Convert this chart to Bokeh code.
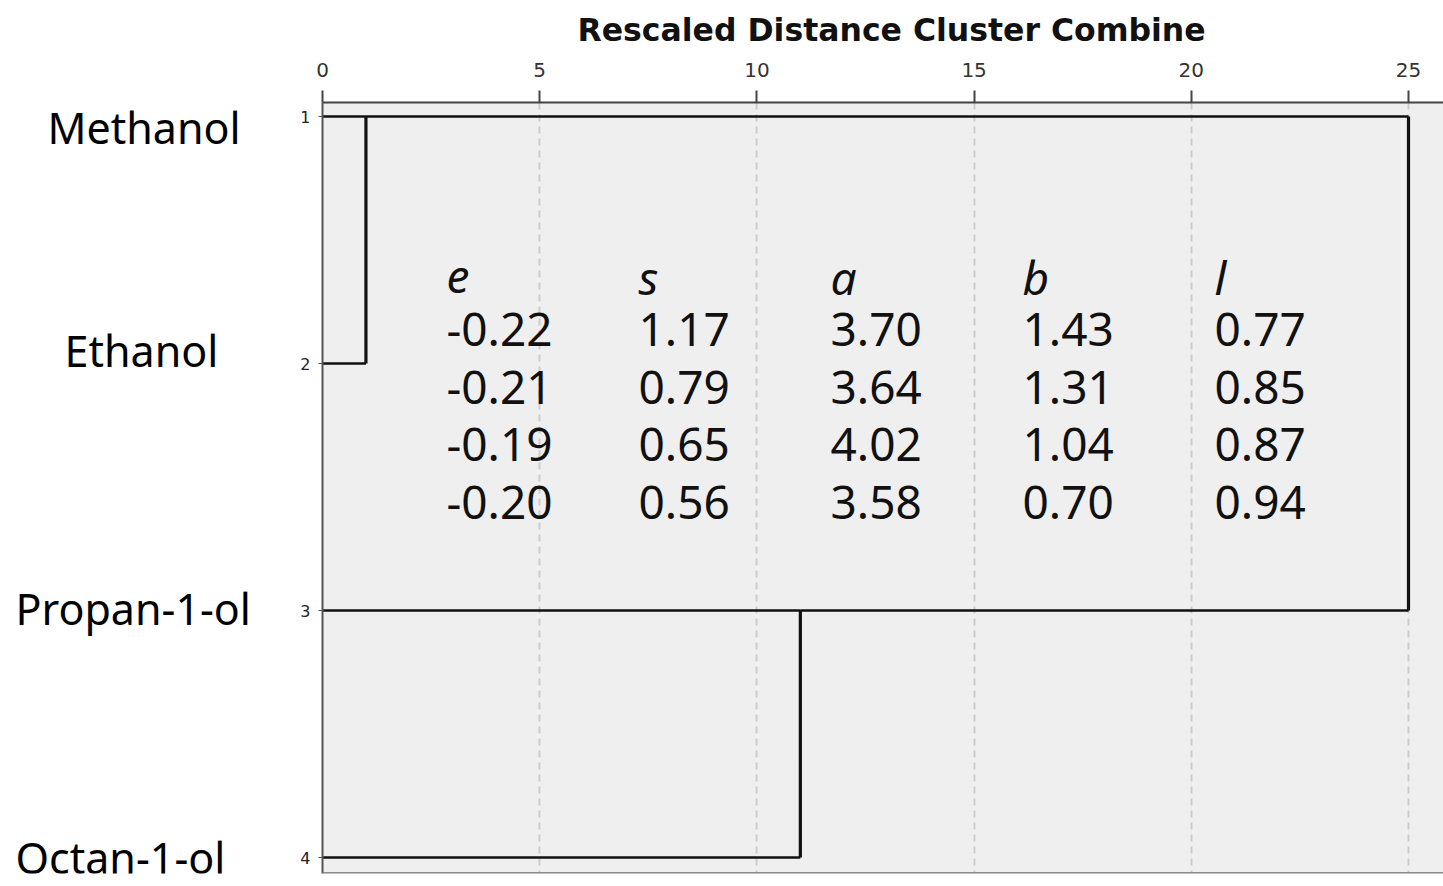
from bokeh.plotting import figure
from bokeh.layouts import row
from bokeh.models import (Range1d, FixedTicker, ColumnDataSource, Span)
from bokeh.core.properties import value
from bokeh.embed import file_html
from bokeh.resources import INLINE

# ---------------- data ----------------
names = ["Methanol", "Ethanol", "Propan-1-ol", "Octan-1-ol"]
case_ids = [1, 2, 3, 4]
# linkage: (cluster a, cluster b, rescaled distance); new clusters get ids 4, 5, ...
link_a = [0, 2, 4]
link_b = [1, 3, 5]
link_dist = [1.0, 11.0, 25.0]

x_ticks = [0, 5, 10, 15, 20, 25]

col_heads = ["e", "s", "a", "b", "l"]
col_e = ["-0.22", "-0.21", "-0.19", "-0.20"]
col_s = ["1.17", "0.79", "0.65", "0.56"]
col_a = ["3.70", "3.64", "4.02", "3.58"]
col_b = ["1.43", "1.31", "1.04", "0.70"]
col_l = ["0.77", "0.85", "0.87", "0.94"]

# ---------------- layout constants ----------------
W, H = 1443, 886
LW = 280                     # width of the name panel
PX_X = 43.44                 # pixels per distance unit
PX_Y = 247.0                 # pixels per case row
FRAME_LEFT, FRAME_TOP, FRAME_BOTTOM = 322, 102, 873
ROW1_PX, ROW4_PX = 116, 857

x_end = (W - FRAME_LEFT) / PX_X
y_top = case_ids[0] - (ROW1_PX - FRAME_TOP) / PX_Y
y_bottom = case_ids[-1] + (FRAME_BOTTOM - ROW4_PX) / PX_Y
yr = Range1d(y_bottom, y_top)

p = figure(width=W - LW, height=H, output_backend="svg", toolbar_location=None,
           x_range=Range1d(0, x_end), y_range=yr,
           x_axis_location="above", min_border_left=FRAME_LEFT - LW,
           min_border_right=0, min_border_top=FRAME_TOP,
           min_border_bottom=H - FRAME_BOTTOM, tools="")
p.background_fill_color = "#efefef"
p.border_fill_color = "white"
p.outline_line_color = None

# title
p.title.text = "Rescaled Distance Cluster Combine"
p.title.text_font = "DejaVu Sans"
p.title.text_font_style = "bold"
p.title.text_font_size = "31.5px"
p.title.text_color = "#111111"
p.title.align = "left"
p.title.vertical_align = "top"
p.title.offset = 255
p.title.standoff = 20

# top axis
xa = p.xaxis[0]
xa.ticker = FixedTicker(ticks=x_ticks)
xa.major_tick_out = 12
xa.major_tick_in = 0
xa.minor_tick_line_color = None
xa.major_tick_line_color = "#444444"
xa.major_tick_line_width = 2
xa.axis_line_color = "#444444"
xa.axis_line_width = 2
xa.major_label_text_font = "DejaVu Sans"
xa.major_label_text_font_size = "20px"
xa.major_label_text_color = "#333333"
xa.major_label_standoff = 14

# left axis (case numbers)
ya = p.yaxis[0]
ya.ticker = FixedTicker(ticks=case_ids)
ya.major_tick_out = 4
ya.major_tick_in = 0
ya.minor_tick_line_color = None
ya.major_tick_line_color = "#555555"
ya.axis_line_color = "#555555"
ya.axis_line_width = 2
ya.major_label_text_font = "DejaVu Sans"
ya.major_label_text_font_size = "16px"
ya.major_label_text_color = "#222222"
ya.major_label_standoff = 8

# grid
p.xgrid.grid_line_color = "#cccccc"
p.xgrid.grid_line_dash = "7 5"
p.xgrid.grid_line_width = 2
p.ygrid.grid_line_color = None

# bottom border line
p.add_layout(Span(location=y_bottom, dimension="width", line_color="#8a8a8a",
                  line_width=3))

# ---------------- dendrogram ----------------
pos = {i: float(r) for i, r in enumerate(case_ids)}
hgt = {i: 0.0 for i in range(len(case_ids))}
hx0, hx1, hy = [], [], []
vx, vy0, vy1 = [], [], []
nid = len(case_ids)
for a, b, d in zip(link_a, link_b, link_dist):
    for c in (a, b):
        hx0.append(hgt[c]); hx1.append(d); hy.append(pos[c])
    vx.append(d); vy0.append(pos[a]); vy1.append(pos[b])
    pos[nid] = min(pos[a], pos[b])
    hgt[nid] = d
    nid += 1

p.segment(x0=hx0, y0=hy, x1=hx1, y1=hy, line_color="#111111", line_width=2.5)
p.segment(x0=vx, y0=vy0, x1=vx, y1=vy1, line_color="#111111", line_width=3.2)

# ---------------- parameter table ----------------
TX0 = (446 - FRAME_LEFT) / PX_X
TSTEP = 192 / PX_X
head_y = case_ids[0] + (276 - ROW1_PX) / PX_Y
row_y0 = case_ids[0] + (329 - ROW1_PX) / PX_Y
row_step = 57.5 / PX_Y

cols = [col_e, col_s, col_a, col_b, col_l]
hx = [TX0 + i * TSTEP for i in range(len(col_heads))]
p.text(x=hx, y=[head_y] * len(col_heads), text=col_heads,
       text_font=value("Noto Sans"), text_font_style="italic",
       text_font_size="46px", text_color="#111111", text_baseline="middle")

tx, ty, tt = [], [], []
for i, col in enumerate(cols):
    for j, v in enumerate(col):
        tx.append(TX0 + i * TSTEP)
        ty.append(row_y0 + j * row_step)
        tt.append(v)
src = ColumnDataSource(dict(x=tx, y=ty, text=tt))
p.text(x="x", y="y", text="text", source=src, text_font=value("Noto Sans"),
       text_font_size="46px", text_color="#111111", text_baseline="middle")

# ---------------- name panel (left) ----------------
# frames of the row are aligned, so it shares the dendrogram's vertical range
pl = figure(width=LW, height=H, output_backend="svg", toolbar_location=None,
            x_range=Range1d(0, LW), y_range=yr,
            min_border_left=0, min_border_right=0, min_border_top=FRAME_TOP,
            min_border_bottom=H - FRAME_BOTTOM, tools="")
pl.axis.visible = False
pl.grid.visible = False
pl.outline_line_color = None
pl.background_fill_color = "white"
pl.border_fill_color = "white"

name_left_px = [47, 64, 15, 15]        # left edge of each name (px)
name_dy_px = [11, -13, -2, 0]          # vertical shift of each name from its row (px)
nsrc = ColumnDataSource(dict(
    x=name_left_px,
    y=[c + d / PX_Y for c, d in zip(case_ids, name_dy_px)],
    text=names))
pl.text(x="x", y="y", text="text", source=nsrc, text_font=value("Noto Sans"),
        text_font_size="43px", text_color="#000000", text_align="left",
        text_baseline="middle")

layout = row(pl, p, spacing=0)
open("out.html", "w").write(file_html(layout, INLINE))
